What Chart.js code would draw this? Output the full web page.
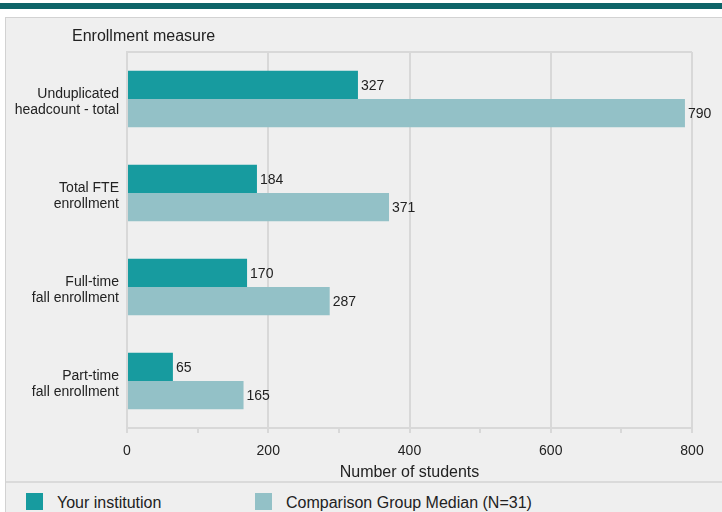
<!DOCTYPE html>
<html>
<head>
<meta charset="utf-8">
<script src="https://cdn.jsdelivr.net/npm/chart.js@4.4.1/dist/chart.umd.min.js"></script>
<style>
  body { margin: 0; background: #fff; width: 722px; height: 512px; overflow: hidden; position: relative; font-family: "Liberation Sans", Arial, sans-serif; }
  #topbar { position: absolute; left: 0; top: 3px; width: 722px; height: 6px; background: #0e6468; }
  #panel { position: absolute; left: 5px; top: 17px; width: 720px; height: 500px; background: #efefef; border-left: 1px solid #d2d2d2; border-top: 1px solid #d2d2d2; }
  #sep { position: absolute; left: 6px; top: 481px; width: 716px; height: 2px; background: #dadada; }
  #wrap { position: absolute; left: 0; top: 0; width: 722px; height: 482px; }
  .leg { position: absolute; top: 493px; font-size: 16px; color: #222; line-height: 18px; }
  .leg span { position: absolute; left: 0; top: 0; width: 17px; height: 17px; }
  .leg b { font-weight: normal; position: absolute; left: 31px; top: 1px; white-space: nowrap; }
</style>
</head>
<body>
<div id="topbar"></div>
<div id="panel"></div>
<div id="sep"></div>
<div id="wrap"><canvas id="canvas"></canvas></div>
<div class="leg" style="left:26px"><span style="background:#179b9f"></span><b>Your institution</b></div>
<div class="leg" style="left:255px"><span style="background:#93c1c7"></span><b>Comparison Group Median (N=31)</b></div>
<script>
  var categories = [
    ['Unduplicated', 'headcount - total'],
    ['Total FTE', 'enrollment'],
    ['Full-time', 'fall enrollment'],
    ['Part-time', 'fall enrollment']
  ];
  var institution = [327, 184, 170, 65];
  var comparison = [790, 371, 287, 165];
  var seriesNames = ['Your institution', 'Comparison Group Median (N=31)'];
  var xTicks = [0, 200, 400, 600, 800];

  var barLabels = {
    id: 'barLabels',
    afterDatasetsDraw: function(chart) {
      var ctx = chart.ctx;
      ctx.save();
      ctx.font = '14px "Liberation Sans", Arial, sans-serif';
      ctx.fillStyle = '#222';
      ctx.textBaseline = 'middle';
      ctx.textAlign = 'left';
      chart.data.datasets.forEach(function(ds, i) {
        chart.getDatasetMeta(i).data.forEach(function(bar, j) {
          ctx.fillText(ds.data[j], bar.x + 3, bar.y + 1);
        });
      });
      ctx.restore();
    }
  };

  var axisHeading = {
    id: 'axisHeading',
    afterDraw: function(chart) {
      var ctx = chart.ctx;
      ctx.save();
      ctx.font = '16px "Liberation Sans", Arial, sans-serif';
      ctx.fillStyle = '#222';
      ctx.textBaseline = 'middle';
      ctx.fillText('Enrollment measure', 72, 37);
      ctx.restore();
    }
  };

  var ctx = document.getElementById('canvas').getContext('2d');
  var myBar = new Chart(ctx, {
    type: 'bar',
    data: {
      labels: categories,
      datasets: [
        { label: seriesNames[0], data: institution, backgroundColor: '#179b9f', categoryPercentage: 0.6, barPercentage: 1.0 },
        { label: seriesNames[1], data: comparison, backgroundColor: '#93c1c7', categoryPercentage: 0.6, barPercentage: 1.0 }
      ]
    },
    options: {
      indexAxis: 'y',
      responsive: true,
      maintainAspectRatio: false,
      animation: false,
      layout: { padding: { top: 52, right: 30, bottom: 0, left: 0 } },
      plugins: { legend: { display: false }, tooltip: { enabled: false } },
      scales: {
        x: {
          min: 0,
          max: 800,
          afterBuildTicks: function(scale) {
            scale.ticks = [0, 100, 200, 300, 400, 500, 600, 700, 800].map(function(v) { return { value: v }; });
          },
          afterFit: function(scale) { scale.height = 54; },
          ticks: {
            autoSkip: false,
            maxRotation: 0,
            padding: 10,
            color: '#222',
            font: { family: '"Liberation Sans", Arial, sans-serif', size: 14 },
            callback: function(v) { return xTicks.indexOf(v) >= 0 ? v : ''; }
          },
          grid: {
            color: function(c) { return (c.tick && xTicks.indexOf(c.tick.value) >= 0) ? '#d8d8d8' : 'rgba(0,0,0,0)'; },
            tickColor: '#d8d8d8',
            tickLength: 5,
            lineWidth: 2
          },
          border: { color: '#d8d8d8', width: 2 },
          title: {
            display: true,
            text: 'Number of students',
            color: '#222',
            padding: { top: 0, bottom: 0 },
            font: { family: '"Liberation Sans", Arial, sans-serif', size: 16 }
          }
        },
        y: {
          afterFit: function(scale) { scale.width = 127; },
          ticks: {
            padding: 8,
            labelOffset: 3,
            color: '#222',
            font: { family: '"Liberation Sans", Arial, sans-serif', size: 14, lineHeight: 1.15 }
          },
          grid: {
            drawTicks: false,
            lineWidth: 2,
            color: function(c) { return c.index === 0 ? '#d8d8d8' : 'rgba(0,0,0,0)'; }
          },
          border: { color: '#d8d8d8', width: 2 }
        }
      }
    },
    plugins: [barLabels, axisHeading]
  });
</script>
</body>
</html>
